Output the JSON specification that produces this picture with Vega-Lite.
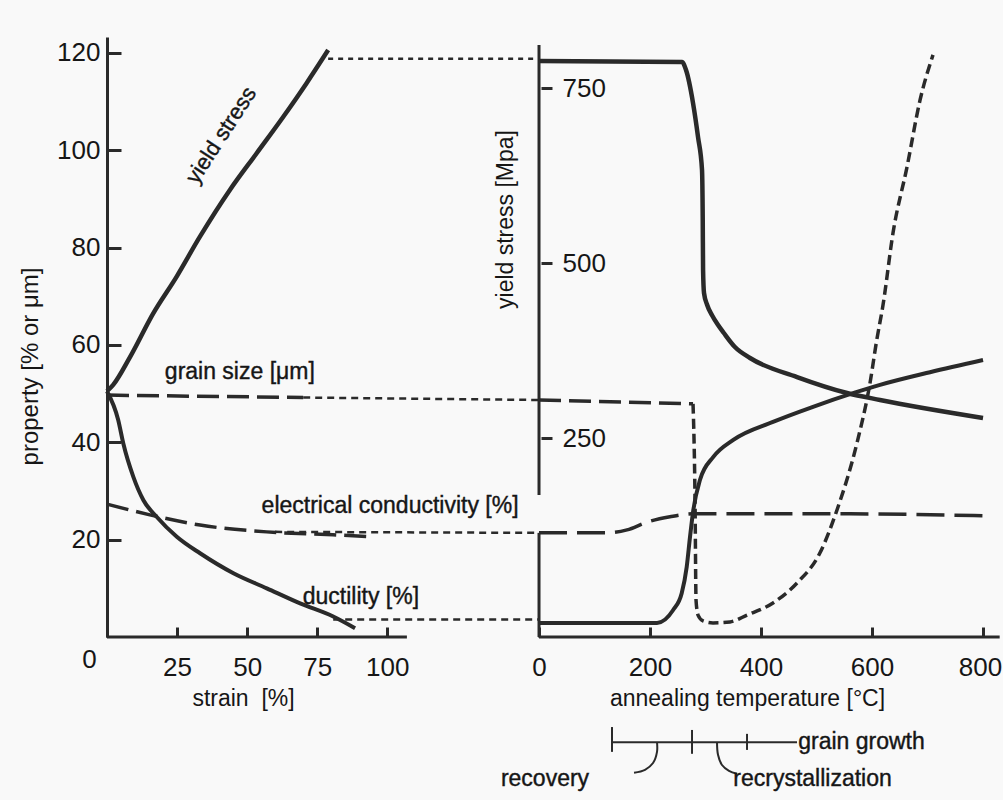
{
  "$schema": "https://vega.github.io/schema/vega-lite/v6.json",
  "width": 893,
  "height": 600,
  "autosize": {"type": "none"},
  "padding": {"left": 107, "top": 37, "right": 3, "bottom": 163},
  "background": "#f9f9f9",
  "config": {
    "view": {"stroke": null},
    "font": "Liberation Sans",
    "axis": {
      "grid": false,
      "labelFont": "Liberation Sans",
      "titleFont": "Liberation Sans",
      "labelFontSize": 26,
      "titleFontSize": 23,
      "titleFontWeight": "normal",
      "labelColor": "#161616",
      "titleColor": "#161616",
      "tickColor": "#2a2a2a",
      "domainColor": "#2a2a2a",
      "tickWidth": 3,
      "domainWidth": 3,
      "labelFlush": false,
      "labelOverlap": false
    },
    "text": {"font": "Liberation Sans", "fontSize": 23, "color": "#161616", "stroke": "#161616", "strokeWidth": 0.4}
  },
  "datasets": {
    "strainSide": [
      {"curve": "yield stress", "strain": 0, "property": 50.5},
      {"curve": "yield stress", "strain": 2.2, "property": 51.8},
      {"curve": "yield stress", "strain": 8.2, "property": 57.5},
      {"curve": "yield stress", "strain": 16.5, "property": 66.5},
      {"curve": "yield stress", "strain": 24.8, "property": 74.0},
      {"curve": "yield stress", "strain": 33.1, "property": 82.2},
      {"curve": "yield stress", "strain": 43.9, "property": 91.9},
      {"curve": "yield stress", "strain": 53.4, "property": 99.4},
      {"curve": "yield stress", "strain": 62.9, "property": 106.9},
      {"curve": "yield stress", "strain": 71.2, "property": 113.8},
      {"curve": "yield stress", "strain": 78.9, "property": 120.6},

      {"curve": "ductility", "strain": 0, "property": 50.5},
      {"curve": "ductility", "strain": 4.0, "property": 44.6},
      {"curve": "ductility", "strain": 5.8, "property": 39.8},
      {"curve": "ductility", "strain": 9.4, "property": 32.9},
      {"curve": "ductility", "strain": 13.0, "property": 28.1},
      {"curve": "ductility", "strain": 17.7, "property": 24.7},
      {"curve": "ductility", "strain": 24.9, "property": 20.6},
      {"curve": "ductility", "strain": 33.2, "property": 17.2},
      {"curve": "ductility", "strain": 45.1, "property": 13.1},
      {"curve": "ductility", "strain": 57.0, "property": 10.0},
      {"curve": "ductility", "strain": 68.9, "property": 6.9},
      {"curve": "ductility", "strain": 80.7, "property": 4.2},
      {"curve": "ductility", "strain": 88.5, "property": 1.8},

      {"curve": "grain size", "strain": 0, "property": 49.7},
      {"curve": "grain size", "strain": 70, "property": 49.2},

      {"curve": "conductivity", "strain": 0, "property": 27.3},
      {"curve": "conductivity", "strain": 15.3, "property": 25.1},
      {"curve": "conductivity", "strain": 33.2, "property": 23.0},
      {"curve": "conductivity", "strain": 57.0, "property": 21.6},
      {"curve": "conductivity", "strain": 80.6, "property": 21.0},
      {"curve": "conductivity", "strain": 93.8, "property": 20.6},

      {"curve": "yield link", "strain": 78.9, "property": 118.8},
      {"curve": "yield link", "strain": 154.1, "property": 118.8},
      {"curve": "grain link", "strain": 70, "property": 49.2},
      {"curve": "grain link", "strain": 154.1, "property": 48.7},
      {"curve": "conductivity link", "strain": 60, "property": 21.6},
      {"curve": "conductivity link", "strain": 154.1, "property": 21.4},
      {"curve": "ductility link", "strain": 80.7, "property": 3.6},
      {"curve": "ductility link", "strain": 154.1, "property": 3.6},

      {"curve": "strain baseline", "strain": 0, "property": 0},
      {"curve": "strain baseline", "strain": 107, "property": 0}
    ],
    "annealSide": [
      {"curve": "ductility", "temperature": 0, "property": 2.9},
      {"curve": "ductility", "temperature": 182, "property": 2.9},
      {"curve": "ductility", "temperature": 212.6, "property": 2.9},
      {"curve": "ductility", "temperature": 241.4, "property": 5.5},
      {"curve": "ductility", "temperature": 257.1, "property": 9.0},
      {"curve": "ductility", "temperature": 266.1, "property": 14.4},
      {"curve": "ductility", "temperature": 272.1, "property": 20.6},
      {"curve": "ductility", "temperature": 278.0, "property": 26.1},
      {"curve": "ductility", "temperature": 290.1, "property": 32.3},
      {"curve": "ductility", "temperature": 314.1, "property": 37.0},
      {"curve": "ductility", "temperature": 350.1, "property": 40.5},
      {"curve": "ductility", "temperature": 421.6, "property": 44.2},
      {"curve": "ductility", "temperature": 493.7, "property": 47.3},
      {"curve": "ductility", "temperature": 565.8, "property": 50.1},
      {"curve": "ductility", "temperature": 614.4, "property": 51.8},
      {"curve": "ductility", "temperature": 704.5, "property": 54.4},
      {"curve": "ductility", "temperature": 800, "property": 56.9},

      {"curve": "grain size flat", "temperature": 0, "property": 48.7},
      {"curve": "grain size flat", "temperature": 277.5, "property": 47.9},

      {"curve": "grain growth", "temperature": 277.5, "property": 47.9},
      {"curve": "grain growth", "temperature": 281.1, "property": 28.1},
      {"curve": "grain growth", "temperature": 282.9, "property": 7.6},
      {"curve": "grain growth", "temperature": 286.5, "property": 4.5},
      {"curve": "grain growth", "temperature": 295.5, "property": 3.3},
      {"curve": "grain growth", "temperature": 313.5, "property": 2.9},
      {"curve": "grain growth", "temperature": 344.1, "property": 3.1},
      {"curve": "grain growth", "temperature": 374.8, "property": 4.5},
      {"curve": "grain growth", "temperature": 421.6, "property": 7.0},
      {"curve": "grain growth", "temperature": 464.9, "property": 11.1},
      {"curve": "grain growth", "temperature": 506.3, "property": 17.3},
      {"curve": "grain growth", "temperature": 536.9, "property": 26.1},
      {"curve": "grain growth", "temperature": 573.0, "property": 39.9},
      {"curve": "grain growth", "temperature": 596.4, "property": 52.2},
      {"curve": "grain growth", "temperature": 608.5, "property": 61.0},
      {"curve": "grain growth", "temperature": 619.8, "property": 68.2},
      {"curve": "grain growth", "temperature": 637.8, "property": 83.0},
      {"curve": "grain growth", "temperature": 663.1, "property": 96.6},
      {"curve": "grain growth", "temperature": 686.5, "property": 110.3},
      {"curve": "grain growth", "temperature": 709.9, "property": 119.6},

      {"curve": "conductivity", "temperature": 0, "property": 21.4},
      {"curve": "conductivity", "temperature": 122.5, "property": 21.4},
      {"curve": "conductivity", "temperature": 158.6, "property": 22.0},
      {"curve": "conductivity", "temperature": 194.6, "property": 23.6},
      {"curve": "conductivity", "temperature": 236, "property": 24.7},
      {"curve": "conductivity", "temperature": 275.7, "property": 25.3},
      {"curve": "conductivity", "temperature": 560, "property": 25.3},
      {"curve": "conductivity", "temperature": 800, "property": 24.9},

      {"curve": "temperature baseline", "temperature": 0, "property": 0},
      {"curve": "temperature baseline", "temperature": 830, "property": 0},
      {"curve": "start edge", "temperature": 0, "property": 0},
      {"curve": "start edge", "temperature": 0, "property": 21.4},

      {"curve": "stage bar", "temperature": 131.5, "property": -21.6},
      {"curve": "stage bar", "temperature": 464.9, "property": -21.6},
      {"curve": "stage mark 1", "temperature": 131.5, "property": -18.5},
      {"curve": "stage mark 1", "temperature": 131.5, "property": -23.6},
      {"curve": "stage mark 2", "temperature": 275.7, "property": -19.1},
      {"curve": "stage mark 2", "temperature": 275.7, "property": -24.0},
      {"curve": "stage mark 3", "temperature": 374.8, "property": -19.9},
      {"curve": "stage mark 3", "temperature": 374.8, "property": -23.2},

      {"curve": "recovery pointer", "temperature": 212.6, "property": -21.6},
      {"curve": "recovery pointer", "temperature": 212.6, "property": -23.6},
      {"curve": "recovery pointer", "temperature": 205.4, "property": -25.9},
      {"curve": "recovery pointer", "temperature": 191.0, "property": -27.3},
      {"curve": "recovery pointer", "temperature": 171.2, "property": -27.9},
      {"curve": "recrystallization pointer", "temperature": 320.7, "property": -21.6},
      {"curve": "recrystallization pointer", "temperature": 322.5, "property": -24.2},
      {"curve": "recrystallization pointer", "temperature": 329.7, "property": -26.3},
      {"curve": "recrystallization pointer", "temperature": 342.3, "property": -27.5},
      {"curve": "recrystallization pointer", "temperature": 356.8, "property": -28.1}
    ],
    "stressSide": [
      {"curve": "yield stress", "temperature": 0, "stress": 788.6},
      {"curve": "yield stress", "temperature": 257.7, "stress": 787.1},
      {"curve": "yield stress", "temperature": 264.9, "stress": 775.7},
      {"curve": "yield stress", "temperature": 277.5, "stress": 728.6},
      {"curve": "yield stress", "temperature": 286.5, "stress": 680.0},
      {"curve": "yield stress", "temperature": 293.7, "stress": 632.9},
      {"curve": "yield stress", "temperature": 295.0, "stress": 561.4},
      {"curve": "yield stress", "temperature": 295.6, "stress": 490.0},
      {"curve": "yield stress", "temperature": 297.3, "stress": 457.0},
      {"curve": "yield stress", "temperature": 303.0, "stress": 440.0},
      {"curve": "yield stress", "temperature": 312.0, "stress": 425.0},
      {"curve": "yield stress", "temperature": 322.0, "stress": 412.0},
      {"curve": "yield stress", "temperature": 333.0, "stress": 400.0},
      {"curve": "yield stress", "temperature": 353.0, "stress": 380.0},
      {"curve": "yield stress", "temperature": 380.2, "stress": 364.3},
      {"curve": "yield stress", "temperature": 464.9, "stress": 337.1},
      {"curve": "yield stress", "temperature": 555.0, "stress": 314.3},
      {"curve": "yield stress", "temperature": 614.4, "stress": 304.3},
      {"curve": "yield stress", "temperature": 800, "stress": 278.6},

      {"curve": "stress axis line", "temperature": 0, "stress": 168.6},
      {"curve": "stress axis line", "temperature": 0, "stress": 811.4}
    ]
  },
  "layer": [
    {
      "data": {"name": "strainSide"},
      "encoding": {
        "x": {
          "field": "strain",
          "type": "quantitative",
          "scale": {"domain": [0, 318.6], "nice": false, "zero": false},
          "axis": {
            "orient": "bottom",
            "values": [0, 25, 50, 75, 100],
            "domain": false,
            "tickSize": -10,
            "labelPadding": {"condition": {"test": "datum.value === 0", "value": 19}, "value": 27},
            "labelOffset": {"condition": {"test": "datum.value === 0", "value": -18}, "value": 0},
            "title": "strain \u00a0[%]",
            "titleX": 136,
            "titleY": 61,
            "titleAlign": "center",
            "titleBaseline": "middle"
          }
        },
        "y": {
          "field": "property",
          "type": "quantitative",
          "scale": {"domain": [0, 123.28], "nice": false, "zero": false},
          "axis": {
            "orient": "left",
            "values": [20, 40, 60, 80, 100, 120],
            "domain": true,
            "tickSize": -14,
            "labelPadding": 21,
            "title": "property [% or μm]",
            "titleFontSize": 24,
            "titleAngle": 270,
            "titleX": -77,
            "titleY": 329,
            "titleAlign": "center",
            "titleBaseline": "middle"
          }
        },
        "order": {"value": null}
      },
      "layer": [
        {
          "transform": [{"filter": "datum.curve === 'yield stress'"}],
          "mark": {"type": "line", "color": "#2a2a2a", "strokeWidth": 4.5, "interpolate": "monotone"}
        },
        {
          "transform": [{"filter": "datum.curve === 'ductility'"}],
          "mark": {"type": "line", "color": "#2a2a2a", "strokeWidth": 4, "interpolate": "monotone"}
        },
        {
          "transform": [{"filter": "datum.curve === 'grain size'"}],
          "mark": {"type": "line", "color": "#2a2a2a", "strokeWidth": 3.5, "strokeDash": [22, 8]}
        },
        {
          "transform": [{"filter": "datum.curve === 'conductivity'"}],
          "mark": {"type": "line", "color": "#2a2a2a", "strokeWidth": 3.5, "strokeDash": [22, 8], "interpolate": "monotone"}
        },
        {
          "transform": [{"filter": "datum.curve === 'yield link'"}],
          "mark": {"type": "line", "color": "#2a2a2a", "strokeWidth": 2.5, "strokeDash": [5, 5]}
        },
        {
          "transform": [{"filter": "indexof(['grain link', 'conductivity link', 'ductility link'], datum.curve) >= 0"}],
          "mark": {"type": "line", "color": "#2a2a2a", "strokeWidth": 2.5, "strokeDash": [7, 5]},
          "encoding": {"detail": {"field": "curve"}}
        },
        {
          "transform": [{"filter": "datum.curve === 'strain baseline'"}],
          "mark": {"type": "line", "color": "#2a2a2a", "strokeWidth": 3}
        },
        {
          "data": {
            "values": [
              {"label": "yield stress", "strain": 40.7, "property": 103.1}
            ]
          },
          "mark": {"type": "text", "angle": -57, "align": "center", "baseline": "middle", "fontSize": 22},
          "encoding": {"text": {"field": "label"}}
        },
        {
          "data": {
            "values": [
              {"label": "grain size [μm]", "strain": 47.4, "property": 54.4},
              {"label": "electrical conductivity [%]", "strain": 101.0, "property": 26.9},
              {"label": "ductility [%]", "strain": 90.6, "property": 8.2}
            ]
          },
          "mark": {"type": "text", "align": "center", "baseline": "middle"},
          "encoding": {"text": {"field": "label"}}
        }
      ]
    },
    {
      "data": {"name": "annealSide"},
      "encoding": {
        "x": {
          "field": "temperature",
          "type": "quantitative",
          "scale": {"domain": [-778.4, 830.6], "nice": false, "zero": false},
          "axis": {
            "orient": "bottom",
            "values": [0, 200, 400, 600, 800],
            "domain": false,
            "tickSize": -10,
            "labelPadding": 27,
            "labelOffset": {"condition": {"test": "datum.value === 800", "value": -3}, "value": 0},
            "title": "annealing temperature [°C]",
            "titleX": 640,
            "titleY": 61,
            "titleAlign": "center",
            "titleBaseline": "middle"
          }
        },
        "y": {
          "field": "property",
          "type": "quantitative",
          "scale": {"domain": [0, 123.28], "nice": false, "zero": false},
          "axis": null
        },
        "order": {"value": null}
      },
      "layer": [
        {
          "transform": [{"filter": "datum.curve === 'ductility'"}],
          "mark": {"type": "line", "color": "#2a2a2a", "strokeWidth": 4, "interpolate": "monotone"}
        },
        {
          "transform": [{"filter": "datum.curve === 'grain size flat'"}],
          "mark": {"type": "line", "color": "#2a2a2a", "strokeWidth": 3.5, "strokeDash": [22, 8]}
        },
        {
          "transform": [{"filter": "datum.curve === 'grain growth'"}],
          "mark": {"type": "line", "color": "#2a2a2a", "strokeWidth": 3.5, "strokeDash": [10, 5], "interpolate": "monotone"}
        },
        {
          "transform": [{"filter": "datum.curve === 'conductivity'"}],
          "mark": {"type": "line", "color": "#2a2a2a", "strokeWidth": 3.5, "strokeDash": [28, 10], "interpolate": "monotone"}
        },
        {
          "transform": [{"filter": "indexof(['temperature baseline', 'start edge'], datum.curve) >= 0"}],
          "mark": {"type": "line", "color": "#2a2a2a", "strokeWidth": 3},
          "encoding": {"detail": {"field": "curve"}}
        },
        {
          "transform": [{"filter": "indexof(['stage bar', 'stage mark 1', 'stage mark 2', 'stage mark 3'], datum.curve) >= 0"}],
          "mark": {"type": "line", "color": "#2a2a2a", "strokeWidth": 2},
          "encoding": {"detail": {"field": "curve"}}
        },
        {
          "transform": [{"filter": "indexof(['recovery pointer', 'recrystallization pointer'], datum.curve) >= 0"}],
          "mark": {"type": "line", "color": "#2a2a2a", "strokeWidth": 2, "interpolate": "catmull-rom"},
          "encoding": {"detail": {"field": "curve"}}
        },
        {
          "data": {
            "values": [
              {"label": "recovery", "temperature": 10.8, "property": -29.2},
              {"label": "recrystallization", "temperature": 492.8, "property": -29.2},
              {"label": "grain growth", "temperature": 581, "property": -21.6}
            ]
          },
          "mark": {"type": "text", "align": "center", "baseline": "middle"},
          "encoding": {"text": {"field": "label"}}
        }
      ]
    },
    {
      "data": {"name": "stressSide"},
      "encoding": {
        "x": {
          "field": "temperature",
          "type": "quantitative",
          "scale": {"domain": [-778.4, 830.6], "nice": false, "zero": false},
          "axis": null
        },
        "y": {
          "field": "stress",
          "type": "quantitative",
          "scale": {"domain": [-34.3, 822.9], "nice": false, "zero": false},
          "axis": {
            "orient": "right",
            "offset": -459,
            "values": [250, 500, 750],
            "domain": false,
            "tickSize": 11,
            "labelPadding": 10,
            "title": "yield stress [Mpa]",
            "titleAngle": 270,
            "titleX": -36,
            "titleY": 182,
            "titleAlign": "center",
            "titleBaseline": "middle"
          }
        },
        "order": {"value": null}
      },
      "layer": [
        {
          "transform": [{"filter": "datum.curve === 'yield stress'"}],
          "mark": {"type": "line", "color": "#2a2a2a", "strokeWidth": 4.5, "interpolate": "monotone"}
        },
        {
          "transform": [{"filter": "datum.curve === 'stress axis line'"}],
          "mark": {"type": "line", "color": "#2a2a2a", "strokeWidth": 3}
        }
      ]
    }
  ],
  "resolve": {
    "scale": {"x": "independent", "y": "independent"},
    "axis": {"x": "independent", "y": "independent"}
  }
}
